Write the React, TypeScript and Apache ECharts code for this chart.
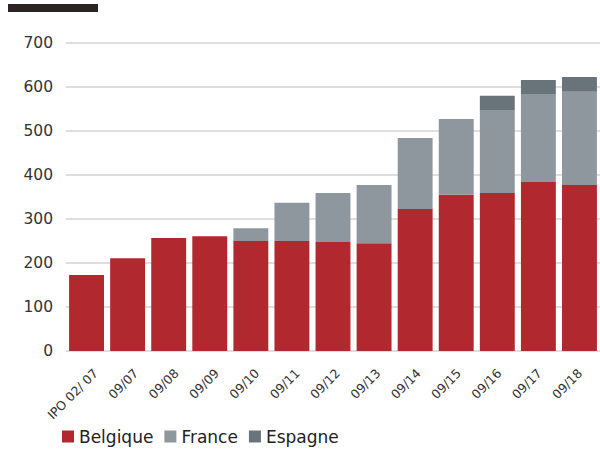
import React, { useEffect, useRef } from "react";
import * as echarts from "echarts";

const categories = ["IPO 02/ 07", "09/07", "09/08", "09/09", "09/10", "09/11", "09/12", "09/13", "09/14", "09/15", "09/16", "09/17", "09/18"];
const belgique = [173, 211, 257, 261, 250, 250, 248, 245, 323, 355, 359, 384, 377];
const france = [0, 0, 0, 0, 29, 87, 111, 132, 161, 172, 189, 200, 212];
const espagne = [0, 0, 0, 0, 0, 0, 0, 0, 0, 0, 32, 32, 34];
const seriesNames = ["Belgique", "France", "Espagne"];
const seriesColors = ["#b1282f", "#8f979e", "#68747a"];

const FONT = "DejaVu Sans";

export default function App() {
  const ref = useRef<HTMLDivElement>(null);
  useEffect(() => {
    if (!ref.current) return;
    const chart = echarts.init(ref.current, undefined, { renderer: "svg" });
    const data = [belgique, france, espagne];
    chart.setOption({
      animation: false,
      textStyle: { fontFamily: FONT },
      graphic: [
        { type: "rect", left: 8, top: 4, shape: { width: 90, height: 8 }, style: { fill: "#2b2623" } },
      ],
      grid: [
        { left: 66, right: 0, top: 43, bottom: 101, containLabel: false },
        { left: 75.5, right: -9.5, top: 43, bottom: 101, containLabel: false },
      ],
      legend: {
        data: seriesNames,
        left: 57,
        top: 423,
        itemWidth: 12,
        itemHeight: 12,
        itemGap: 11,
        icon: "rect",
        textStyle: { fontFamily: FONT, fontSize: 17, color: "#222" },
      },
      xAxis: [
        {
          type: "category",
          gridIndex: 0,
          data: categories,
          axisLine: { show: false },
          axisTick: { show: false },
          axisLabel: { show: false },
        },
        {
          type: "category",
          gridIndex: 1,
          data: categories,
          axisLine: { show: false },
          axisTick: { show: false },
          splitLine: { show: false },
          axisLabel: { rotate: 45, fontSize: 12.5, color: "#333", margin: 20, interval: 0, fontFamily: FONT },
        },
      ],
      yAxis: [
        {
          type: "value",
          gridIndex: 0,
          min: 0,
          max: 700,
          interval: 100,
          axisLine: { show: false },
          axisTick: { show: false },
          axisLabel: { fontSize: 15.5, color: "#333", margin: 13, fontFamily: FONT },
          splitLine: { lineStyle: { color: "#dedede", width: 2 } },
        },
        {
          type: "value",
          gridIndex: 1,
          min: 0,
          max: 700,
          interval: 100,
          show: false,
          splitLine: { show: false },
        },
      ],
      series: seriesNames.map((name, i) => ({
        name,
        type: "bar",
        stack: "total",
        xAxisIndex: 0,
        yAxisIndex: 0,
        data: data[i],
        barCategoryGap: "15%",
        itemStyle: { color: seriesColors[i] },
      })),
    });
    return () => chart.dispose();
  }, []);
  return <div ref={ref} style={{ position: "absolute", left: 0, top: 0, width: 600, height: 452 }} />;
}
